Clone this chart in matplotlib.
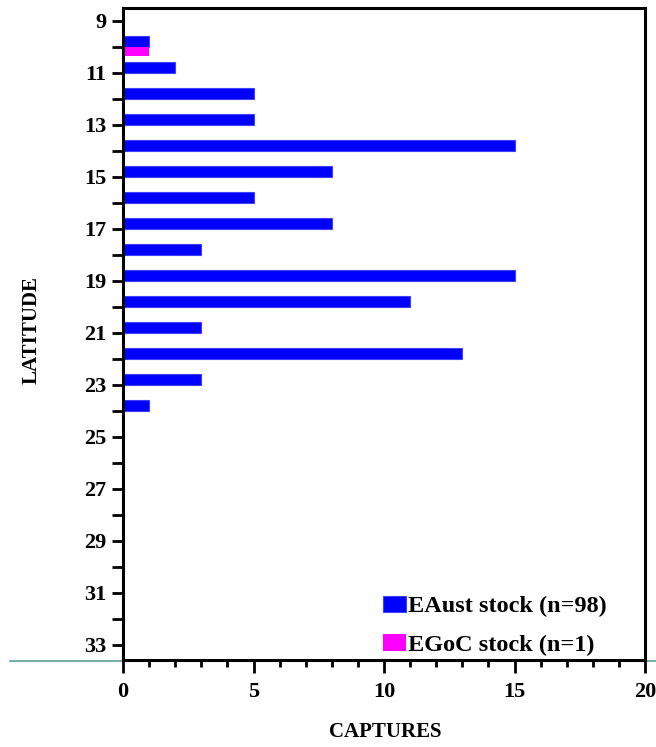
import matplotlib
matplotlib.use("Agg")
import matplotlib.pyplot as plt
from matplotlib.lines import Line2D
from matplotlib.ticker import MultipleLocator
import numpy as np

latitudes = list(range(9, 34))
eaust = [0, 1, 2, 5, 5, 15, 8, 5, 8, 3, 15, 11, 3, 13, 3, 1, 0, 0, 0, 0, 0, 0, 0, 0, 0]
egoc = [0, 1, 0, 0, 0, 0, 0, 0, 0, 0, 0, 0, 0, 0, 0, 0, 0, 0, 0, 0, 0, 0, 0, 0, 0]
ytick_labels = [str(v) if v % 2 == 1 else "" for v in latitudes]
xticks = [0, 5, 10, 15, 20]

plt.rcParams['font.family'] = ['Liberation Serif', 'DejaVu Serif']
plt.rcParams['font.weight'] = 'bold'

fig = plt.figure(figsize=(6.56, 7.47), dpi=100)
ax = fig.add_axes([123/656, 1 - 660/747, (645-123)/656, (660-8)/747])

lat = np.array(latitudes)
h = 0.41
ax.barh(lat - 0.2, eaust, height=h, color='#0000ff', edgecolor='#4040ff', linewidth=0.8,
        label='EAust stock (n=98)')
ax.barh(lat + 0.18, egoc, height=0.36, color='#ff00ff',
        edgecolor='#ff00ff', linewidth=0, label='EGoC stock (n=1)')

ax.set_xlim(0, 20)
ax.set_ylim(33.58, 8.5)
ax.set_yticks(latitudes)
ax.set_yticklabels(ytick_labels, fontsize=16, fontweight='bold')
ax.set_xticks(xticks)
ax.set_xticklabels([str(v) for v in xticks], fontsize=16, fontweight='bold')
ax.xaxis.set_minor_locator(MultipleLocator(1))
ax.tick_params(axis='y', direction='out', length=8, width=2, pad=4)
ax.tick_params(axis='x', which='major', direction='out', length=9, width=2, pad=7)
ax.tick_params(axis='x', which='minor', direction='out', length=5, width=2)
for s in ax.spines.values():
    s.set_linewidth(2.2)
    s.set_color('black')

ax.set_ylabel('LATITUDE', fontsize=15, fontweight='bold')
ax.set_xlabel('CAPTURES', fontsize=15, fontweight='bold')
ax.yaxis.set_label_coords(-0.176, 0.506)
ax.xaxis.set_label_coords(0.502, -0.110)
ax.xaxis.label.set_va('center')
ax.yaxis.label.set_va('center')

leg = ax.legend(loc='lower right', bbox_to_anchor=(0.96, -0.02), frameon=False,
                prop={'size': 17.5, 'weight': 'bold'}, handlelength=0.95, handleheight=0.65,
                handletextpad=0.1, labelspacing=0.7, borderaxespad=0.3)

fig.add_artist(Line2D([10/656, 1.0], [1 - 661/747, 1 - 661/747], color='#5f9f98',
                      linewidth=1.2, transform=fig.transFigure, zorder=0))

fig.savefig('out.png', dpi=100)
